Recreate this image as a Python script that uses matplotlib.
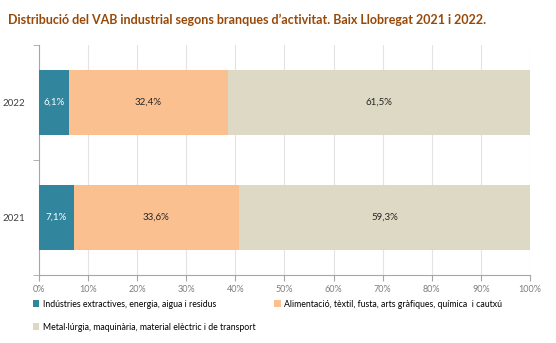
import numpy as np
import matplotlib.pyplot as plt

plt.rcParams['font.family'] = ['Lato', 'DejaVu Sans']

# VAB industrial per branca (% del total)
anys = ['2021', '2022']
extractives = [7.1, 6.1]
alimentacio = [33.6, 32.4]
metall = [59.3, 61.5]
etiquetes = ['Indústries extractives, energia, aigua i residus',
             'Alimentació, tèxtil, fusta, arts gràfiques, química  i cautxú',
             'Metal·lúrgia, maquinària, material elèctric i de transport']
colors = ['#31859C', '#FAC090', '#DDD9C4']
text_colors = ['white', '#262626', '#262626']

fig = plt.figure(figsize=(5.56, 3.43), dpi=100)
ax = fig.add_axes([0.0701, 0.198, 0.883, 0.671])

y = np.arange(len(anys))
left = np.zeros(len(anys))
for vals, lab, c, tc in zip([extractives, alimentacio, metall], etiquetes, colors, text_colors):
    vals = np.array(vals)
    ax.barh(y, vals, left=left, height=0.565, color=c, label=lab, zorder=3)
    for yi, l, v in zip(y, left, vals):
        ax.text(l + v / 2, yi, f'{v:.1f}%'.replace('.', ','), ha='center', va='center',
                fontsize=7, color=tc, zorder=4)
    left += vals

ax.set_xlim(0, 100)
ax.set_ylim(-0.5, 1.5)
ax.set_xticks(np.arange(0, 101, 10))
ax.set_xticklabels([f'{t}%' for t in range(0, 101, 10)], fontsize=6.5, color='#7F7F7F')
ax.set_yticks(y)
ax.set_yticklabels(anys, fontsize=7, color='#404040')
ax.set_yticks([-0.5, 0.5, 1.5], minor=True)
ax.tick_params(axis='y', which='major', length=0, pad=10)
ax.tick_params(axis='y', which='minor', length=4, color='#A6A6A6')
ax.tick_params(axis='x', length=4, color='#A6A6A6', pad=3)
ax.grid(axis='x', color='#E3E3E3', linewidth=0.8, zorder=0)
for s in ['top', 'right']:
    ax.spines[s].set_visible(False)
for s in ['left', 'bottom']:
    ax.spines[s].set_color('#A6A6A6')
    ax.spines[s].set_linewidth(0.8)

fig.text(0.014, 0.941, 'Distribució del VAB industrial segons branques d’activitat. Baix Llobregat 2021 i 2022.',
         fontsize=9, fontweight='bold', color='#984807', va='center')

# dues columnes: la tercera entrada va a la segona fila
handles, labels = ax.get_legend_handles_labels()
order = [0, 2, 1]
fig.legend([handles[i] for i in order], [labels[i] for i in order], ncol=2,
           loc='upper left', bbox_to_anchor=(0.053, 0.137),
           frameon=False, fontsize=6.3, handlelength=0.7, handleheight=0.7,
           handletextpad=0.4, columnspacing=2.2, labelspacing=1.6, borderaxespad=0)

fig.savefig('out.png', dpi=100)
